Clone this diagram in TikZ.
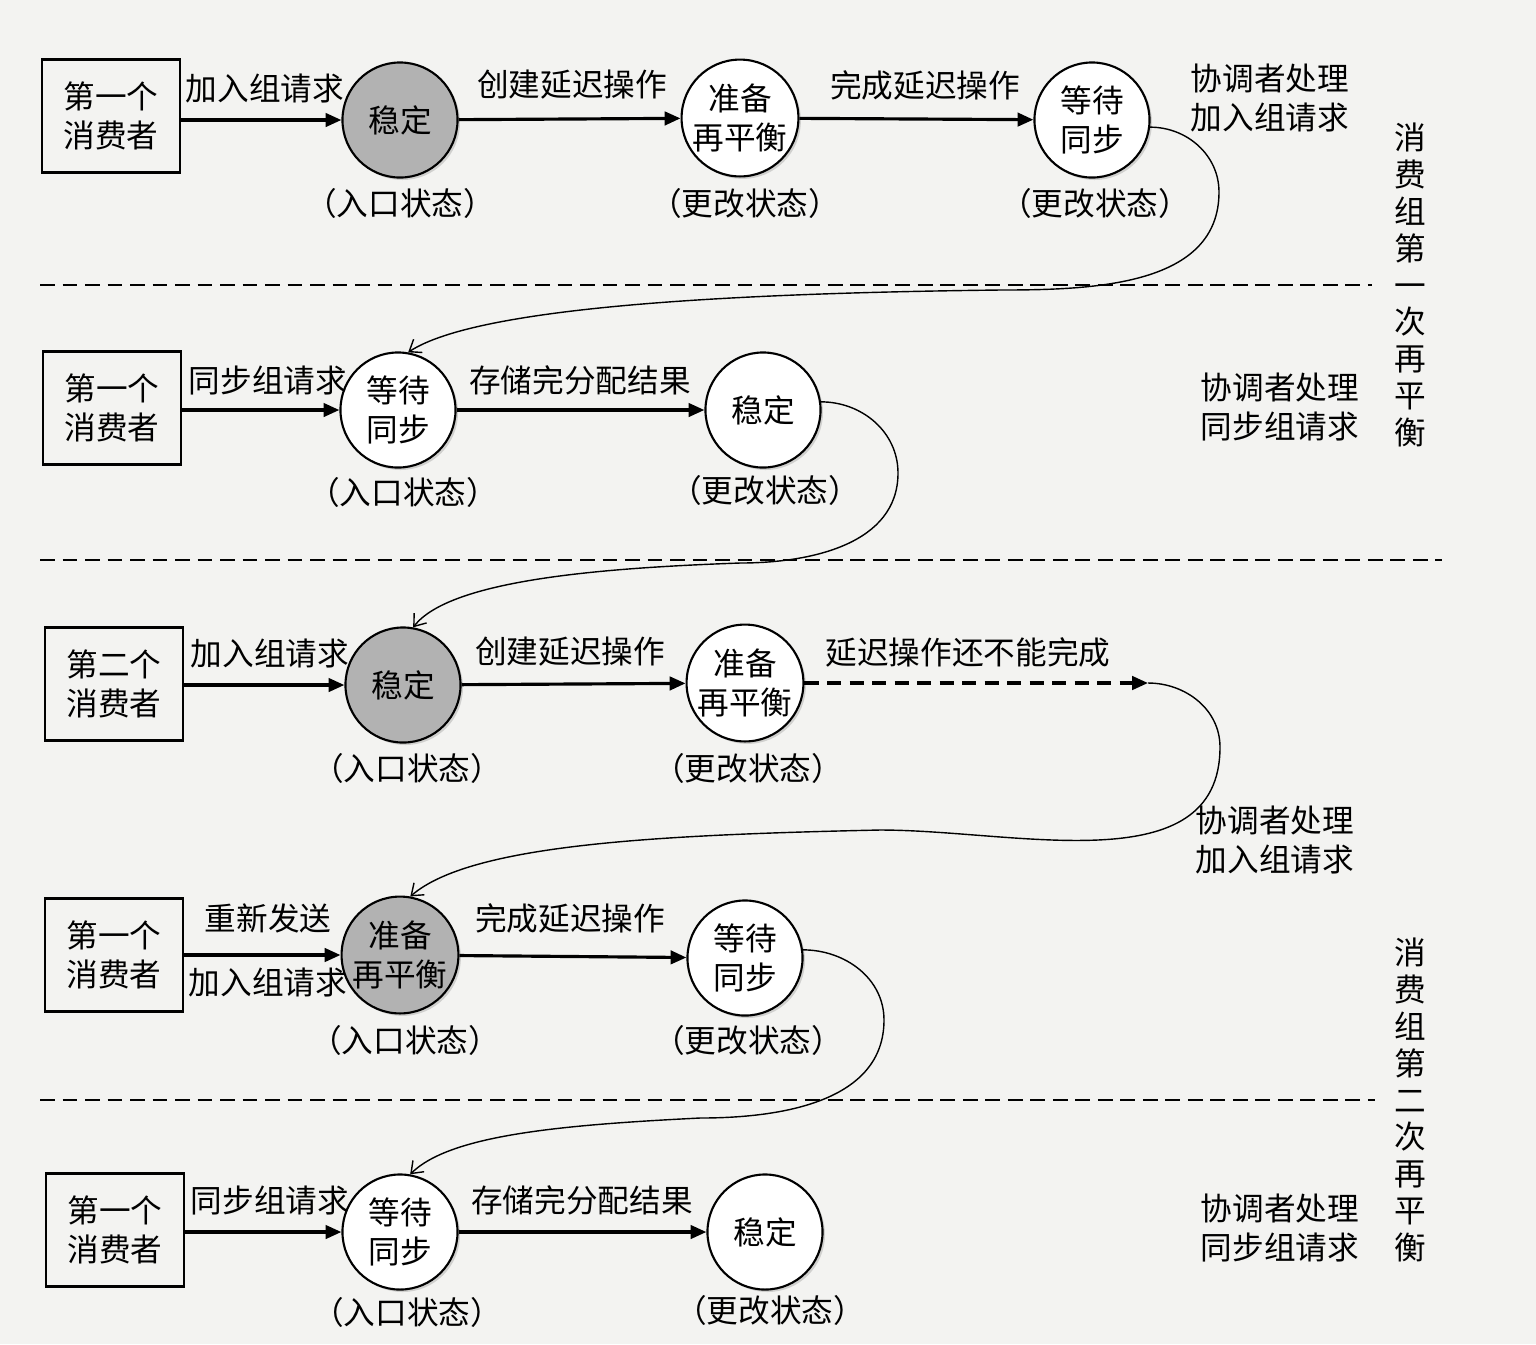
\documentclass[tikz,border=0pt]{standalone}
\usepackage{fontspec}
\setmainfont{Noto Sans CJK SC}
\usetikzlibrary{arrows.meta,shadows}
\definecolor{paper}{RGB}{243,243,241}
\begin{document}
\begin{tikzpicture}[x=0.01cm,y=0.01cm,
    every node/.style={font=\fontsize{9}{11}\selectfont},
    consumer/.style={draw,line width=0.75pt,minimum width=1.38cm,minimum height=1.13cm,align=center},
    state/.style={circle,draw,line width=0.6pt,minimum size=1.15cm,inner sep=0pt,align=center,fill=white,
      drop shadow={opacity=0.3,shadow xshift=0.7pt,shadow yshift=-0.7pt}},
    entry/.style={state,fill=black!30},
    req/.style={line width=0.9pt,-{Triangle[length=4.5pt,width=3.8pt]}},
    hop/.style={line width=0.4pt,-{Straight Barb[length=3pt,width=4.5pt]}},
    sep/.style={line width=0.7pt,dash pattern=on 4.2pt off 2.2pt},
    vert/.style={align=center,font=\fontsize{9}{10.5}\selectfont}]
    \fill[paper] (0,0) rectangle (1536,-1344);
    \useasboundingbox (0,0) rectangle (1536,-1344);

    \node[consumer] (c1) at (111,-116) {第一个\\消费者};
    \node[entry] (r1a) at (400,-120) {稳定};
    \node[state] (r1b) at (740,-118) {准备\\再平衡};
    \node[state] (r1c) at (1092,-120) {等待\\同步};
    \draw[req] (c1.east |- r1a.west) -- (r1a.west);
    \draw[req] (r1a) -- (r1b);
    \draw[req] (r1b) -- (r1c);
    \node (l1a) at (265,-88) {加入组请求};
    \node (l1b) at (572,-85) {创建延迟操作};
    \node (l1c) at (925,-85) {完成延迟操作};
    \node (e1a) at (400,-203) {（入口状态）};
    \node (e1b) at (745,-203) {（更改状态）};
    \node (e1c) at (1095,-203) {（更改状态）};
    \node[align=center] (k1) at (1270,-98) {协调者处理\\加入组请求};

    \draw[sep] (40,-285) -- (1372,-285);

    \node[consumer] (c2) at (112,-408) {第一个\\消费者};
    \node[state] (r2a) at (398,-410) {等待\\同步};
    \node[state] (r2b) at (763,-410) {稳定};
    \draw[req] (c2.east |- r2a.west) -- (r2a.west);
    \draw[req] (r2a) -- (r2b);
    \node (l2a) at (268,-380) {同步组请求};
    \node (l2b) at (580,-380) {存储完分配结果};
    \node (e2a) at (403,-492) {（入口状态）};
    \node (e2b) at (765,-490) {（更改状态）};
    \node[align=center] (k2) at (1280,-407) {协调者处理\\同步组请求};

    \node[vert] (g1) at (1410,-285) {消\\费\\组\\第\\一\\次\\再\\平\\衡};

    \draw[sep] (40,-560) -- (1442,-560);

    \node[consumer] (c3) at (114,-684) {第二个\\消费者};
    \node[entry] (r3a) at (403,-685) {稳定};
    \node[state] (r3b) at (745,-683) {准备\\再平衡};
    \coordinate (q3) at (1148,-683);
    \draw[req] (c3.east |- r3a.west) -- (r3a.west);
    \draw[req] (r3a) -- (r3b);
    \draw[req,dash pattern=on 4pt off 2.4pt] (r3b) -- (q3);
    \node (l3a) at (270,-653) {加入组请求};
    \node (l3b) at (570,-652) {创建延迟操作};
    \node (l3c) at (968,-652) {延迟操作还不能完成};
    \node (e3a) at (407,-768) {（入口状态）};
    \node (e3b) at (748,-768) {（更改状态）};
    \node[align=center] (k3) at (1275,-840) {协调者处理\\加入组请求};

    \node[consumer] (c4) at (114,-955) {第一个\\消费者};
    \node[entry] (r4a) at (400,-955) {准备\\再平衡};
    \node[state] (r4b) at (745,-958) {等待\\同步};
    \draw[req] (c4.east |- r4a.west) -- (r4a.west);
    \draw[req] (r4a) -- (r4b);
    \node (l4a) at (268,-918) {重新发送};
    \node (l4b) at (268,-982) {加入组请求};
    \node (l4c) at (570,-918) {完成延迟操作};
    \node (e4a) at (405,-1040) {（入口状态）};
    \node (e4b) at (748,-1040) {（更改状态）};

    \draw[sep] (40,-1100) -- (1375,-1100);

    \node[consumer] (c5) at (115,-1230) {第一个\\消费者};
    \node[state] (r5a) at (400,-1232) {等待\\同步};
    \node[state] (r5b) at (765,-1232) {稳定};
    \draw[req] (c5.east |- r5a.west) -- (r5a.west);
    \draw[req] (r5a) -- (r5b);
    \node (l5a) at (270,-1200) {同步组请求};
    \node (l5b) at (582,-1200) {存储完分配结果};
    \node (e5a) at (407,-1312) {（入口状态）};
    \node (e5b) at (770,-1310) {（更改状态）};
    \node[align=center] (k5) at (1280,-1228) {协调者处理\\同步组请求};

    \node[vert] (g2) at (1410,-1100) {消\\费\\组\\第\\二\\次\\再\\平\\衡};

    \draw[hop] (r1c.-7) to[out=0,in=90] (1219,-192) to[out=-90,in=0] (1000,-290)
      .. controls (750,-293) and (480,-305) .. (r2a.80);
    \draw[hop] (r2b.8) to[out=0,in=90] (898,-473) to[out=-90,in=0] (740,-563)
      .. controls (600,-568) and (450,-580) .. (r3a.80);
    \draw[hop] (q3) to[out=0,in=90] (1220,-747) to[out=-90,in=0] (880,-830)
      .. controls (650,-835) and (470,-845) .. (r4a.80);
    \draw[hop] (r4b.8) to[out=0,in=90] (884,-1020) to[out=-90,in=0] (700,-1118)
      .. controls (560,-1125) and (450,-1135) .. (r5a.80);
\end{tikzpicture}
\end{document}
